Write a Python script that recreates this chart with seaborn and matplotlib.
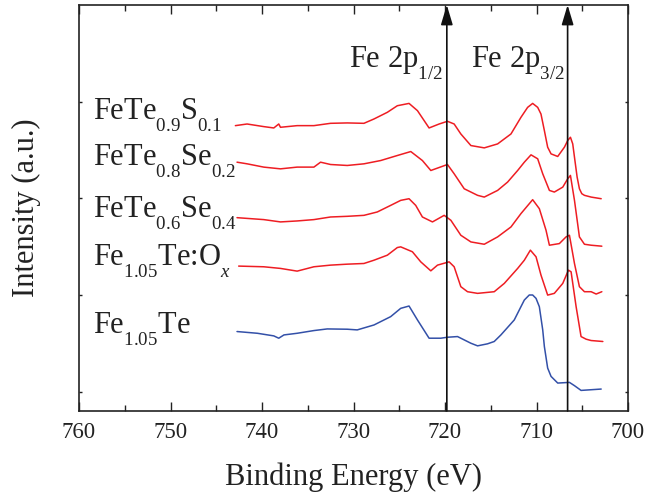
import numpy as np
import pandas as pd
import matplotlib
matplotlib.use("Agg")
import matplotlib.pyplot as plt
import matplotlib._mathtext as _mt
import seaborn as sns

# ---- data (binding energy in eV, offset intensity in a.u.) ----
e_s01 = [742.91, 741.63, 739.81, 738.71, 738.17, 737.98, 736.16, 734.33, 732.51, 730.68,
         728.86, 727.76, 726.30, 725.21, 723.93, 723.01, 721.74, 720.64, 719.73, 719.00,
         718.27, 717.17, 715.71, 714.25, 712.79, 711.70, 710.97, 710.42, 709.87, 709.51,
         709.14, 708.78, 708.41, 707.68, 706.95, 706.59, 706.29, 706.04, 705.85, 705.56,
         705.31, 705.05, 704.76, 704.03, 702.93]
i_s01 = [2.752, 2.769, 2.742, 2.728, 2.769, 2.735, 2.752, 2.752, 2.776, 2.780,
         2.776, 2.821, 2.890, 2.958, 2.982, 2.907, 2.728, 2.769, 2.797, 2.769,
         2.666, 2.546, 2.522, 2.563, 2.666, 2.838, 2.941, 2.982, 2.941, 2.872,
         2.701, 2.529, 2.460, 2.433, 2.529, 2.598, 2.632, 2.563, 2.426, 2.220,
         2.099, 2.048, 2.031, 2.013, 1.996]

e_se02 = [742.73, 741.63, 739.81, 737.98, 736.16, 734.33, 733.60, 732.51, 730.68, 728.86,
          727.03, 725.21, 723.74, 722.47, 721.55, 719.73, 719.00, 717.90, 716.44, 715.71,
          714.25, 713.16, 712.06, 711.33, 710.60, 709.87, 709.32, 708.59, 708.05, 707.13,
          706.59, 706.29, 705.85, 705.31, 704.76, 704.03, 702.86]
i_se02 = [2.374, 2.357, 2.323, 2.305, 2.323, 2.323, 2.374, 2.350, 2.340, 2.357,
          2.391, 2.443, 2.484, 2.391, 2.288, 2.350, 2.254, 2.099, 2.031, 2.013,
          2.082, 2.168, 2.288, 2.374, 2.450, 2.409, 2.254, 2.082, 2.065, 2.116,
          2.202, 2.237, 1.979, 1.601, 1.525, 1.515, 1.505]

e_se04 = [742.73, 739.81, 737.98, 736.16, 734.33, 732.51, 730.68, 728.86, 727.40, 725.94,
          724.84, 723.93, 723.20, 722.47, 721.37, 720.09, 719.36, 718.27, 717.17, 715.71,
          714.25, 712.79, 711.70, 710.42, 709.69, 708.96, 708.59, 707.50, 706.77, 706.40,
          705.85, 705.31, 704.76, 704.03, 703.48, 702.86]
i_se04 = [1.800, 1.780, 1.756, 1.766, 1.780, 1.807, 1.814, 1.824, 1.859, 1.927,
          1.979, 1.996, 1.927, 1.807, 1.756, 1.824, 1.773, 1.618, 1.549, 1.525,
          1.601, 1.704, 1.842, 1.986, 1.893, 1.670, 1.515, 1.532, 1.601, 1.618,
          1.326, 1.086, 1.034, 1.034, 1.010, 1.034]

e_ox = [742.55, 739.81, 737.98, 736.16, 734.33, 732.51, 730.68, 728.86, 727.76, 726.30,
        725.21, 724.84, 723.56, 722.65, 721.55, 720.82, 719.55, 719.00, 718.27, 717.54,
        716.44, 714.62, 713.52, 712.06, 711.33, 710.67, 710.05, 709.51, 708.78, 708.05,
        707.13, 706.51, 706.22, 705.67, 705.13, 704.58, 704.03, 702.75]
i_ox = [1.299, 1.292, 1.275, 1.247, 1.292, 1.309, 1.319, 1.326, 1.360, 1.412,
        1.491, 1.498, 1.447, 1.343, 1.250, 1.309, 1.343, 1.292, 1.086, 1.034,
        1.017, 1.034, 1.120, 1.275, 1.360, 1.464, 1.395, 1.206, 0.999, 1.017,
        1.120, 1.257, 1.240, 0.879, 0.570, 0.543, 0.529, 0.519]

e_te = [742.73, 740.50, 738.71, 738.17, 737.60, 736.16, 734.33, 732.87, 730.68, 729.59,
        727.76, 725.94, 724.84, 723.93, 723.01, 721.74, 720.46, 719.73, 718.63, 717.17,
        716.44, 715.35, 714.62, 713.89, 712.43, 711.70, 711.33, 710.79, 710.42, 710.05,
        709.69, 709.32, 709.14, 708.78, 708.41, 707.68, 706.40, 705.85, 705.13, 704.03,
        702.93]
i_te = [0.622, 0.604, 0.577, 0.553, 0.587, 0.604, 0.632, 0.649, 0.646, 0.639,
        0.690, 0.776, 0.862, 0.886, 0.742, 0.553, 0.553, 0.563, 0.570, 0.501,
        0.474, 0.495, 0.519, 0.587, 0.742, 0.879, 0.948, 1.000, 1.000, 0.965,
        0.879, 0.639, 0.467, 0.244, 0.158, 0.089, 0.096, 0.062, 0.013, 0.020,
        0.027]

labels = [r"FeTe$_{0.9}$S$_{0.1}$", r"FeTe$_{0.8}$Se$_{0.2}$", r"FeTe$_{0.6}$Se$_{0.4}$",
          r"Fe$_{1.05}$Te:O$_{x}$", r"Fe$_{1.05}$Te"]
label_y = [2.825, 2.340, 1.804, 1.309, 0.608]
peak_pos = [719.8, 706.6]
peak_labels = [r"Fe 2p$_{1/2}$", r"Fe 2p$_{3/2}$"]
x_ticks = [760, 750, 740, 730, 720, 710, 700]

series = [(e_s01, i_s01, "s01"), (e_se02, i_se02, "se02"), (e_se04, i_se04, "se04"),
          (e_ox, i_ox, "ox"), (e_te, i_te, "te")]
frames = [pd.DataFrame({"E": e, "I": i, "sample": name}) for e, i, name in series]
df = pd.concat(frames, ignore_index=True)

sns.set_theme(style="ticks")
plt.rcParams["font.family"] = ["Liberation Serif", "DejaVu Serif"]
plt.rcParams["mathtext.fontset"] = "custom"
plt.rcParams["mathtext.rm"] = "Liberation Serif"
plt.rcParams["mathtext.it"] = "Liberation Serif:italic"
plt.rcParams["mathtext.bf"] = "Liberation Serif:bold"

# deeper, smaller subscripts like the reference typesetting
_mt.FontConstantsBase.sub1 = 0.8
_mt.FontConstantsBase.sub2 = 0.8
_mt.SHRINK_FACTOR = 0.62

RED = "#ee1d23"
BLUE = "#3350a8"
INK = "#222222"
palette = {"s01": RED, "se02": RED, "se04": RED, "ox": RED, "te": BLUE}

fig = plt.figure(figsize=(6.46, 5.0), dpi=100)
ax = fig.add_axes([79 / 646, 1 - 411 / 500, (628 - 79) / 646, (411 - 5) / 500])

for name in ["s01", "se02", "se04", "ox", "te"]:
    sub = df[df["sample"] == name]
    sns.lineplot(data=sub, x="E", y="I", ax=ax, color=palette[name], lw=1.1,
                 estimator=None, sort=False, legend=False)

ax.set_xlim(760, 700)
ax.set_ylim(-0.2, 4.0)
ax.set_xticks(x_ticks)
ax.set_xticks(np.arange(755, 700, -10), minor=True)
ax.set_yticks([0, 1, 2, 3])
ax.set_yticklabels([])
ax.tick_params(axis="x", which="major", direction="in", length=6.5, width=1.0,
               top=True, labelsize=16.5, pad=8, colors=INK, labelcolor=INK)
ax.tick_params(axis="x", which="minor", direction="in", length=4, width=1.0, top=True,
               colors=INK)
ax.tick_params(axis="y", which="major", direction="in", length=2.5, width=1.0, right=True,
               colors=INK)
for sp in ax.spines.values():
    sp.set_linewidth(1.2)
    sp.set_color(INK)

ax.set_xlabel("Binding Energy (eV)", fontsize=22, labelpad=14, color=INK)
ax.set_ylabel("Intensity (a.u.)", fontsize=22, labelpad=24, color=INK)

for lab, y in zip(labels, label_y):
    ax.text(758.5, y, lab, fontsize=22, ha="left", va="baseline", color=INK)

for xp in peak_pos:
    ax.annotate("", xy=(xp, 1.0), xytext=(xp, 0.0),
                xycoords=("data", "axes fraction"), textcoords=("data", "axes fraction"),
                arrowprops=dict(arrowstyle="-|>,head_length=1.0,head_width=0.3",
                                color="#111111", lw=1.2, shrinkA=0, shrinkB=0))

ax.text(peak_pos[0] + 0.4, 3.36, peak_labels[0], fontsize=22, ha="right", va="baseline",
        color=INK)
ax.text(peak_pos[0] - 2.6, 3.36, peak_labels[1], fontsize=22, ha="left", va="baseline",
        color=INK)

fig.savefig("out.png", dpi=100)
